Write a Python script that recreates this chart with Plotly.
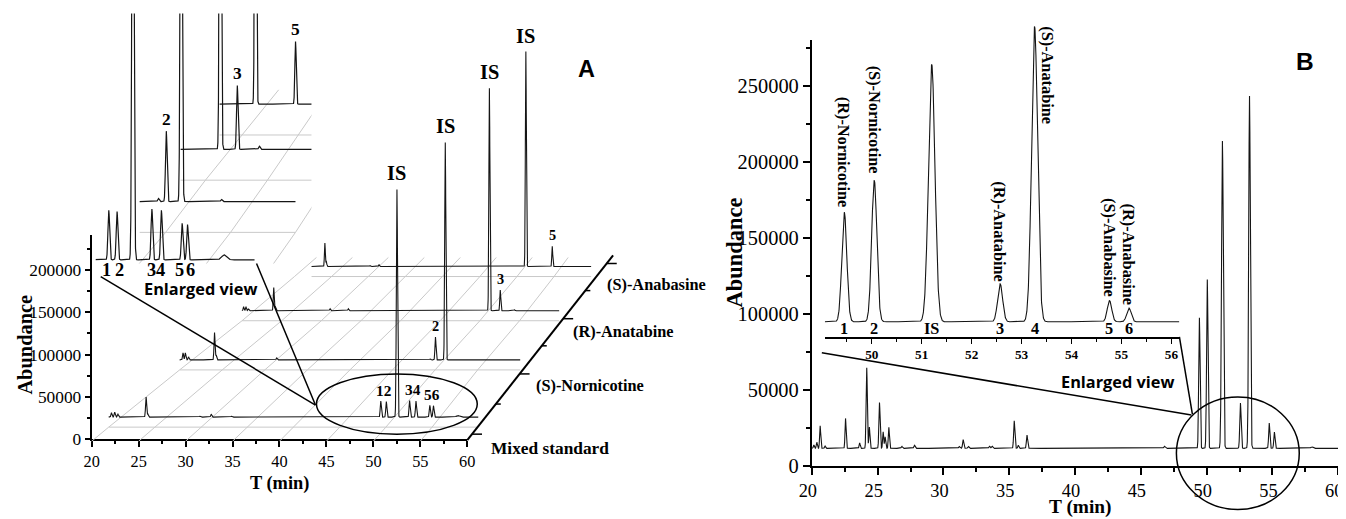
import numpy as np
import plotly.graph_objects as go

W, H = 1346, 519
# Measured mapping from this figure's page pixels to the photographed picture:
# picture = S * page + B ; the page body adds an 8 px margin. Layout compensates for both.
SX, BX, SY, BY = 0.9856, 9.3, 0.975, 1.7
OFF = 8
FS = 1.02   # font compensation for the slight downscale
SERIF = "Liberation Serif, Times New Roman, serif"
SANS = "Liberation Sans, Arial, sans-serif"
OSANS = "Open Sans, Liberation Sans, sans-serif"

# ======================= DATA =======================
BASELINE = 11800          # detector baseline (abundance)
IS_RT = 51.2              # internal standard retention time (min)

# ---- Panel A : four chromatograms (retention time, height above baseline, peak sigma) ----
a_names = ["Mixed standard", "(S)-Nornicotine", "(R)-Anatabine", "(S)-Anabasine"]
a_start = [20.0, 20.0, 20.0, 22.3]

a_mix_rt = [20.3, 20.65, 21.0, 24.05, 24.25, 29.9, 31.1, 33.3, 49.45, 50.05, 51.2, 52.57, 53.26, 54.76, 55.15, 57.8]
a_mix_h = [5300, 5900, 3600, 23700, 3600, 1200, 3600, 1200, 19000, 18500, 269000, 19500, 19000, 14000, 13500, 1900]
a_mix_w = [0.06, 0.06, 0.06, 0.06, 0.05, 0.06, 0.06, 0.06, 0.06, 0.06, 0.065, 0.06, 0.06, 0.06, 0.06, 0.18]

a_nor_rt = [20.4, 20.67, 21.05, 24.1, 24.3, 31.4, 49.45, 50.05, 51.2, 54.3]
a_nor_h = [8300, 8300, 3600, 32500, 5900, 2400, 1200, 27000, 257000, 800]
a_nor_w = [0.06, 0.06, 0.06, 0.06, 0.05, 0.06, 0.06, 0.06, 0.065, 0.06]

a_ata_rt = [20.2, 20.5, 20.8, 24.0, 24.2, 31.1, 33.4, 51.2, 52.57, 54.35]
a_ata_h = [4700, 4700, 2400, 27300, 4700, 2400, 2400, 263000, 24500, 1200]
a_ata_w = [0.06, 0.06, 0.06, 0.06, 0.05, 0.06, 0.06, 0.065, 0.06, 0.06]

a_anb_rt = [24.1, 24.3, 30.2, 31.4, 51.2, 54.76]
a_anb_h = [27800, 5900, 1200, 2400, 254000, 24000]
a_anb_w = [0.06, 0.05, 0.06, 0.06, 0.065, 0.06]

a_peaks = [(a_mix_rt, a_mix_h, a_mix_w), (a_nor_rt, a_nor_h, a_nor_w),
           (a_ata_rt, a_ata_h, a_ata_w), (a_anb_rt, a_anb_h, a_anb_w)]

# labelled analyte peaks in panel A (level, label, retention times)
a_main_labels = [(0, "12", [49.45, 50.05]), (0, "34", [52.57, 53.26]), (0, "56", [54.76, 55.15]),
                 (1, "2", [50.05]), (2, "3", [52.57]), (3, "5", [54.76])]
a_inset_num = ["1", "2", "3", "4", "5", "6"]
a_inset_num_rt = [49.45, 50.05, 52.57, 53.26, 54.76, 55.15]
a_inset_labels = [(1, "2", [50.05]), (2, "3", [52.57]), (3, "5", [54.76])]

# ---- Panel B : tobacco sample chromatogram ----
b_rt = [20.15, 20.38, 20.63, 21.0, 22.56, 23.63, 24.17, 24.37, 25.14, 25.42, 25.57, 25.85,
        26.84, 27.8, 31.2, 31.5, 31.9, 33.5, 33.7, 35.38, 35.69, 36.35, 46.8,
        49.45, 50.05, 51.2, 52.57, 53.26, 54.76, 55.15, 58.0]
b_h = [2200, 4000, 14800, 1500, 19700, 3600, 53100, 14000, 30200, 10900, 7600, 13800,
       1300, 2000, 1200, 5800, 1200, 1400, 1400, 18100, 2100, 8700, 1400,
       86000, 111100, 202200, 29800, 231900, 16600, 10700, 1000]
b_w = [0.04, 0.04, 0.04, 0.04, 0.04, 0.04, 0.045, 0.04, 0.045, 0.04, 0.04, 0.04,
       0.05, 0.05, 0.05, 0.045, 0.05, 0.05, 0.05, 0.045, 0.04, 0.045, 0.06,
       0.05, 0.052, 0.065, 0.05, 0.06, 0.045, 0.045, 0.08]

b_names = ["(R)-Nornicotine", "(S)-Nornicotine", "(R)-Anatabine", "(S)-Anatabine", "(S)-Anabasine", "(R)-Anabasine"]
b_name_rt = [49.45, 50.05, 52.57, 53.26, 54.76, 55.15]
b_nums = ["1", "2", "IS", "3", "4", "5", "6"]
b_num_rt = [49.45, 50.05, 51.2, 52.57, 53.26, 54.76, 55.15]

# ======================= HELPERS =======================
def signal(t, rts, hs, ws):
    t = np.asarray(t, float)[:, None]
    r = np.asarray(rts, float)[None, :]
    h = np.asarray(hs, float)[None, :]
    w = np.asarray(ws, float)[None, :]
    return BASELINE + (h * np.exp(-0.5 * ((t - r) / w) ** 2)).sum(axis=1)


def cxp(x):
    return (x - BX) / SX - OFF


def cyp(y):
    return (y - BY) / SY - OFF


def pp(px, py):
    return cxp(px) / W, 1 - cyp(py) / H


def dx_(a, b):
    return [cxp(a) / W, cxp(b) / W]


def dy_(top, bottom):
    return [1 - cyp(bottom) / H, 1 - cyp(top) / H]


def fs(s):
    return s * FS


# pseudo-3D waterfall geometry (target pixels): rows = (floor y, x at t0, x at t1)
A_T0, A_T1, A_K = 20.0, 60.0, 168.6 / 200000
A_FRONT = (441, 88, 464)
A_ROWS = [(427, 105, 475), (370, 176, 517), (321, 238.5, 556), (277, 291, 588)]
A_BACK = (258, 313, 601)

I_T0, I_T1, I_K = 48.0, 60.0, 0.0026
I_ROWS = [(291, 85, 251), (233, 136, 292), (181, 177, 326), (136, 216, 351)]
I_FRONT = (349, 34, 210)
I_BACK = (91, 255, 376)


def proj(row, t, ab, t0, t1, k):
    floor, xl, xr = row
    t = np.asarray(t, float)
    return xl + (t - t0) / (t1 - t0) * (xr - xl), floor - k * np.asarray(ab, float)


fig = go.Figure()
GRAY = "#c9c9c9"
INK = "#151515"

# anchor trace so that the visible front axes of panel A are drawn
fig.add_trace(go.Scatter(x=[20], y=[0], mode="markers", marker=dict(opacity=0, size=1),
                         xaxis="x", yaxis="y", hoverinfo="skip", showlegend=False))

# ---------------- Panel A main waterfall (overlay axes x2/y2, pixel space) ----------------
gx, gy = [], []
for lv, row in enumerate(A_ROWS):
    px, py = proj(row, [a_start[lv], A_T1], [0, 0], A_T0, A_T1, 0)
    gx += list(px) + [None]
    gy += list(py) + [None]
for tt in [20, 25, 30, 35, 40, 45, 50, 55]:
    for row in [A_FRONT] + A_ROWS + [A_BACK]:
        px, py = proj(row, tt, 0, A_T0, A_T1, 0)
        gx.append(float(px)); gy.append(float(py))
    gx.append(None); gy.append(None)
fig.add_trace(go.Scatter(x=gx, y=gy, mode="lines", line=dict(color=GRAY, width=1),
                         xaxis="x2", yaxis="y2", hoverinfo="skip", showlegend=False))

for lv in [3, 2, 1, 0]:
    t = np.arange(a_start[lv], A_T1 + 1e-9, 0.01)
    ab = signal(t, *a_peaks[lv])
    px, py = proj(A_ROWS[lv], t, ab, A_T0, A_T1, A_K)
    fig.add_trace(go.Scatter(x=px, y=py, mode="lines", line=dict(color=INK, width=1.1),
                             xaxis="x2", yaxis="y2", hoverinfo="skip", showlegend=False))

# ---------------- Panel A inset (x3/y3, clipped) ----------------
gx, gy = [], []
for row in I_ROWS:
    px, py = proj(row, [I_T0, I_T1], [0, 0], I_T0, I_T1, 0)
    gx += list(px) + [None]
    gy += list(py) + [None]
for tt in [50, 55, 60]:
    for row in [I_FRONT] + I_ROWS + [I_BACK]:
        px, py = proj(row, tt, 0, I_T0, I_T1, 0)
        gx.append(float(px)); gy.append(float(py))
    gx.append(None); gy.append(None)
fig.add_trace(go.Scatter(x=gx, y=gy, mode="lines", line=dict(color=GRAY, width=1),
                         xaxis="x3", yaxis="y3", hoverinfo="skip", showlegend=False))
for lv in [3, 2, 1, 0]:
    t = np.arange(I_T0, I_T1 + 1e-9, 0.004)
    ab = signal(t, *a_peaks[lv])
    px, py = proj(I_ROWS[lv], t, ab, I_T0, I_T1, I_K)
    fig.add_trace(go.Scatter(x=px, y=py, mode="lines", line=dict(color=INK, width=1.2),
                             xaxis="x3", yaxis="y3", hoverinfo="skip", showlegend=False))

# ---------------- Panel B main + inset ----------------
tb = np.arange(20.0, 60.0 + 1e-9, 0.004)
fig.add_trace(go.Scatter(x=tb, y=signal(tb, b_rt, b_h, b_w), mode="lines",
                         line=dict(color=INK, width=1.1), xaxis="x4", yaxis="y4",
                         hoverinfo="skip", showlegend=False))
ti = np.arange(49.06, 56.16 + 1e-9, 0.003)
fig.add_trace(go.Scatter(x=ti, y=signal(ti, b_rt, b_h, b_w), mode="lines",
                         line=dict(color=INK, width=1.1), xaxis="x5", yaxis="y5",
                         hoverinfo="skip", showlegend=False))

# ======================= ANNOTATIONS =======================
ann = []


def text(px, py, s, size, family=SERIF, bold=True, xanchor="center", yanchor="middle", angle=0):
    x, y = pp(px, py)
    ann.append(dict(x=x, y=y, xref="paper", yref="paper", text=(f"<b>{s}</b>" if bold else s),
                    showarrow=False, xanchor=xanchor, yanchor=yanchor, textangle=angle,
                    font=dict(family=family, size=fs(size), color="black")))


def peak_top(lv, rts, rows, t0, t1, k):
    pr, ph, pw = a_peaks[lv]
    vals = signal(rts, pr, ph, pw)
    px, py = proj(rows[lv], rts, vals, t0, t1, k)
    return float(np.mean(px)), float(np.min(py))


# IS labels above each IS peak in panel A
for lv in range(4):
    x, y = peak_top(lv, [IS_RT], A_ROWS, A_T0, A_T1, A_K)
    text(x, y - 16, "IS", 20)
for lv, lab, rts in a_main_labels:
    x, y = peak_top(lv, rts, A_ROWS, A_T0, A_T1, A_K)
    text(x, y - 11, lab, 15 if lv == 0 else 14)
# inset labels
inset_dx = [-2, 2, 0, -1, -3, 3]
for lab, rt, dx in zip(a_inset_num, a_inset_num_rt, inset_dx):
    px, _ = proj(I_ROWS[0], rt, 0, I_T0, I_T1, I_K)
    text(float(px) + dx, 270, lab, 18)
for lv, lab, rts in a_inset_labels:
    x, y = peak_top(lv, rts, I_ROWS, I_T0, I_T1, I_K)
    text(x, y - 12, lab, 17)
# depth axis labels
for name, (lx, ly), sz in zip(a_names, [(486, 448), (531, 386), (568, 332), (602, 285)], [17, 16, 16, 16]):
    text(lx, ly, name, sz, xanchor="left")
text(197, 289, "Enlarged view", 16, family=OSANS)
text(583, 70, "A", 23, family=SANS)
text(21, 345, "Abundance", 20, angle=-90)
text(276, 483, "T (min)", 18)

# panel B
text(1303, 63, "B", 24, family=SANS)
text(732, 253, "Abundance", 22, angle=-90)
text(1078, 506.5, "T (min)", 19)
text(1115, 382, "Enlarged view", 16, family=OSANS)
name_cy = [153, 121, 232, 76, 248, 255]
name_dx = [0, 0, 0, 13, 0, 0]
for nm, rt, cy, dx in zip(b_names, b_name_rt, name_cy, name_dx):
    px = 822 + (rt - 49.06) / (56.16 - 49.06) * (1177 - 822)
    text(px + dx, cy, nm, 16, angle=90)
for nm, rt in zip(b_nums, b_num_rt):
    px = 822 + (rt - 49.06) / (56.16 - 49.06) * (1177 - 822)
    text(px, 329, nm, 16)

# ======================= SHAPES =======================
shapes = []


def line(p0, p1, width=1.5, color="black"):
    x0, y0 = pp(*p0)
    x1, y1 = pp(*p1)
    shapes.append(dict(type="line", xref="paper", yref="paper", x0=x0, y0=y0, x1=x1, y1=y1,
                       line=dict(color=color, width=width)))


def ellipse(cx, cy, rx, ry):
    x0, y0 = pp(cx - rx, cy + ry)
    x1, y1 = pp(cx + rx, cy - ry)
    shapes.append(dict(type="circle", xref="paper", yref="paper", x0=x0, y0=y0, x1=x1, y1=y1,
                       line=dict(color="black", width=1.5)))


# depth axis of panel A
DA0, DA1 = (464, 440), (610, 256)
line(DA0, DA1, 2)


def da_x(py):
    return DA0[0] + (DA0[1] - py) * (DA1[0] - DA0[0]) / (DA0[1] - DA1[1])


for ty, ln in [(434, 10), (404, 5), (374, 10), (346, 5), (319, 10), (291, 5), (264, 10)]:
    x = da_x(ty)
    line((x, ty), (x + ln, ty), 1.5)

ellipse(393.5, 404, 80.5, 30)
line((97, 277), (312, 405))
line((253, 264), (312, 405))
ellipse(1235.5, 453, 61.5, 56)
line((819, 353), (1189, 415))
line((1177, 337), (1190, 414))

# ======================= LAYOUT =======================
axis_common = dict(showline=True, linecolor="black", linewidth=2, ticks="outside", tickcolor="black",
                   tickwidth=1.5, showgrid=False, zeroline=False, mirror=False)

fig.update_layout(
    width=W, height=H, autosize=False,
    margin=dict(l=0, r=0, t=0, b=0),
    paper_bgcolor="white", plot_bgcolor="rgba(0,0,0,0)",
    showlegend=False,
    annotations=ann, shapes=shapes,
    xaxis=dict(domain=dx_(88, 464), anchor="y", range=[20, 60], dtick=5, tick0=0, ticklen=6,
               minor=dict(ticks="outside", ticklen=3, dtick=2.5, tickcolor="black", tickwidth=1.5),
               tickfont=dict(family=SERIF, size=fs(16), color="black"), **axis_common),
    yaxis=dict(domain=dy_(236, 439), anchor="x", range=[0, 203 / A_K], dtick=50000, tick0=0,
               ticklen=5, tickformat="d",
               minor=dict(ticks="outside", ticklen=3, dtick=25000, tickcolor="black", tickwidth=1.5),
               tickfont=dict(family=SERIF, size=fs(17), color="black"), **axis_common),
    xaxis2=dict(domain=dx_(20, 680), anchor="y2", range=[20, 680], visible=False),
    yaxis2=dict(domain=dy_(12, 500), anchor="x2", range=[500, 12], visible=False),
    xaxis3=dict(domain=dx_(92, 308), anchor="y3", range=[92, 308], visible=False),
    yaxis3=dict(domain=dy_(15, 264), anchor="x3", range=[264, 15], visible=False),
    xaxis4=dict(domain=dx_(809, 1336), anchor="y4", range=[20, 60], dtick=5, tick0=0, ticklen=7,
                ticklabelshift=-4,
                minor=dict(ticks="outside", ticklen=4, dtick=2.5, tickcolor="black", tickwidth=1.5),
                tickfont=dict(family=SERIF, size=fs(18), color="black"), **axis_common),
    yaxis4=dict(domain=dy_(41, 466), anchor="x4", range=[0, 425 / 0.001514], dtick=50000,
                tick0=0, ticklen=7, tickformat="d",
                minor=dict(ticks="outside", ticklen=4, dtick=25000, tickcolor="black", tickwidth=1.5),
                tickfont=dict(family=SERIF, size=fs(20), color="black"), **axis_common),
    xaxis5=dict(domain=dx_(822, 1177), anchor="y5", range=[49.06, 56.16], dtick=1, tick0=0, ticklen=5,
                minor=dict(ticks="outside", ticklen=3, dtick=0.5, tickcolor="black", tickwidth=1.2),
                tickfont=dict(family=SERIF, size=fs(13), color="black", weight="bold"),
                showline=True, linecolor="black", linewidth=1.5, ticks="outside", tickcolor="black",
                tickwidth=1.2, showgrid=False, zeroline=False),
    yaxis5=dict(domain=dy_(20, 337), anchor="x5", range=[0, 250000], visible=False),
)

fig.write_html("out.html", config={"displayModeBar": False})
